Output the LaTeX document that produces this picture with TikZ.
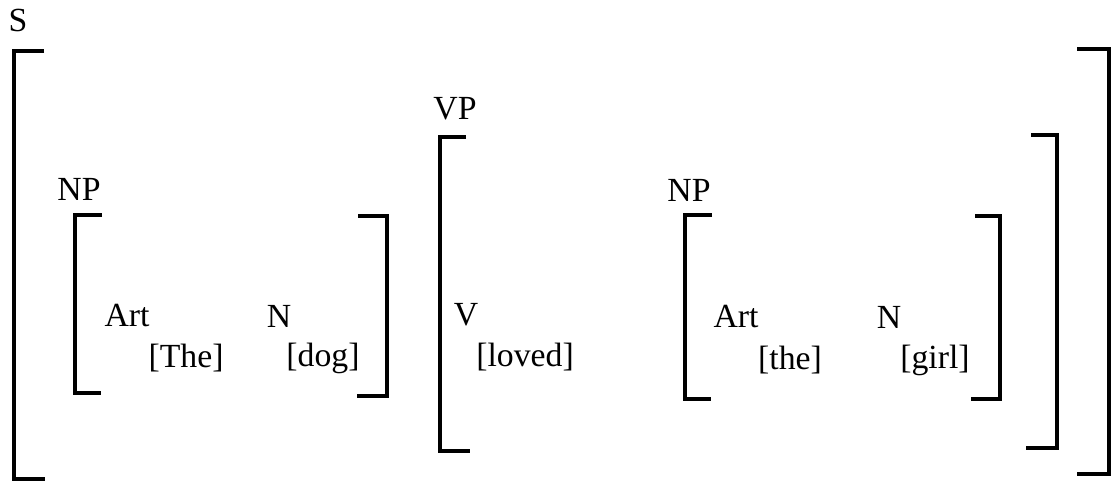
\documentclass[tikz,border=0pt]{standalone}
\usepackage{fontspec}
\setmainfont{Liberation Serif}
\begin{document}
\begin{tikzpicture}[x=0.01cm,y=-0.01cm,
    lab/.style={font=\fontsize{9.6}{11}\selectfont, inner sep=0pt},
    brk/.style={line width=0.95pt}]
    \useasboundingbox (0,0) rectangle (1112,483);
    % category labels
    \node[lab] (s)   at (18,21)  {S};
    \node[lab] (vp)  at (455,109) {VP};
    \node[lab] (np1) at (79,189) {NP};
    \node[lab] (np2) at (689,190) {NP};
    % words
    \node[lab] (art1) at (127,316) {Art};
    \node[lab] (n1)   at (279,316) {N};
    \node[lab] (the1) at (186,358) {[The]};
    \node[lab] (dog)  at (323,358) {[dog]};
    \node[lab] (v)     at (466,315) {V};
    \node[lab] (loved) at (525,357) {[loved]};
    \node[lab] (art2) at (736,317) {Art};
    \node[lab] (n2)   at (889,317) {N};
    \node[lab] (the2) at (790,360) {[the]};
    \node[lab] (girl) at (935,360) {[girl]};
    % S brackets
    \draw[brk] (44,51) -- (14,51) -- (14,479) -- (45,479);
    \draw[brk] (1077,49) -- (1109,49) -- (1109,474) -- (1077,474);
    % VP brackets
    \draw[brk] (466,137) -- (440,137) -- (440,451) -- (470,451);
    \draw[brk] (1031,135) -- (1057,135) -- (1057,448) -- (1026,448);
    % NP brackets
    \draw[brk] (102,215) -- (75,215) -- (75,393) -- (101,393);
    \draw[brk] (358,216) -- (387,216) -- (387,396) -- (357,396);
    \draw[brk] (712,215) -- (685,215) -- (685,399) -- (711,399);
    \draw[brk] (975,216) -- (1000,216) -- (1000,399) -- (971,399);
\end{tikzpicture}
\end{document}
